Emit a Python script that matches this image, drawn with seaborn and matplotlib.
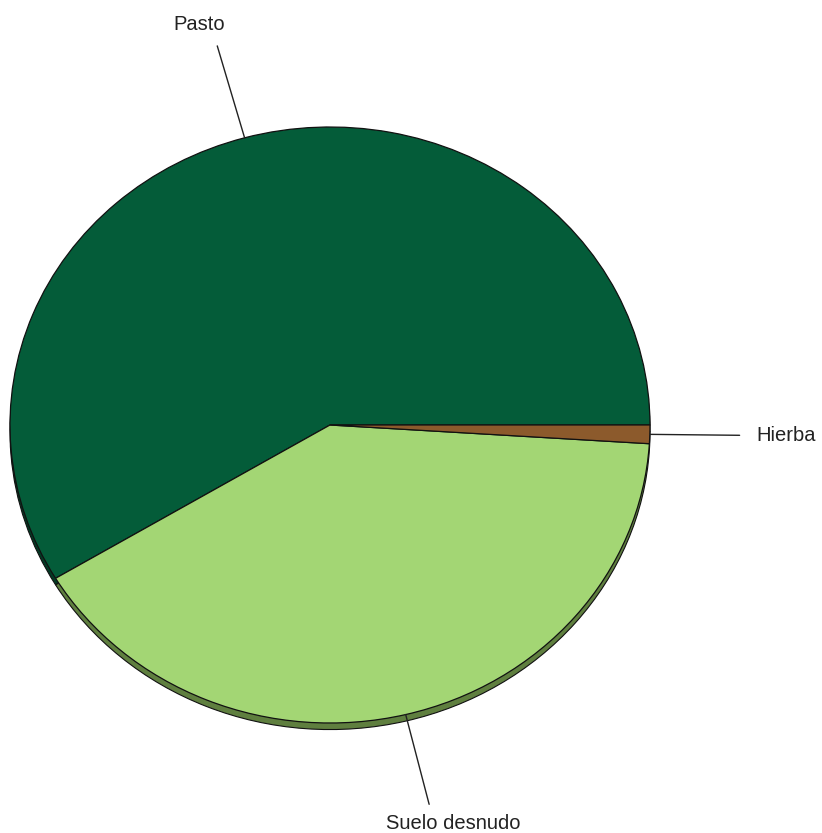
import numpy as np
import matplotlib
matplotlib.use("Agg")
import matplotlib.pyplot as plt
import seaborn as sns

# Data
categories = ["Pasto", "Suelo desnudo", "Hierba"]
shares = [58.6, 40.4, 1.0]
colors = ["#045c39", "#a3d674", "#8c5a2c"]
rim_colors = ["#023a24", "#5f7f3f", "#5a3a1c"]

sns.set_theme(style="white")
plt.rcParams["font.family"] = ["Liberation Sans", "DejaVu Sans"]

W, H = 822, 833
fig = plt.figure(figsize=(W / 100, H / 100), dpi=100)
ax = fig.add_axes([0, 0, 1, 1])

# pixel geometry of the (slightly squashed) pie
cx, cy, rx, ry = 330, 425, 320, 298

# 3D-ish rim: same pie pushed down a few pixels
ax.pie(shares, colors=rim_colors, startangle=0, counterclock=True,
       center=(0, -0.022),
       wedgeprops=dict(edgecolor="#111111", linewidth=0.8))
wedges, _ = ax.pie(shares, colors=colors, startangle=0, counterclock=True,
                   wedgeprops=dict(edgecolor="#111111", linewidth=0.9))

ax.set_aspect("auto")
ax.set_xlim(-cx / rx, (W - cx) / rx)
ax.set_ylim((cy - H) / ry, cy / ry)
ax.axis("off")

# leader lines + labels, (text offset in px, ha, va, line length)
label_style = {
    "Pasto": ((-18, 12), "center", "bottom", 1.32),
    "Suelo desnudo": ((24, -10), "center", "top", 1.31),
    "Hierba": ((17, 0), "left", "center", 1.28),
}

for w, name in zip(wedges, categories):
    ang = np.deg2rad((w.theta1 + w.theta2) / 2)
    (dx, dy), ha, va, r_end = label_style[name]
    x0, y0 = np.cos(ang), np.sin(ang)
    if name == "Hierba":
        x1, y1 = r_end, y0 * 1.1
    else:
        x1, y1 = r_end * x0, r_end * y0
    ax.plot([x0, x1], [y0, y1], color="#222222", linewidth=1.0)
    ax.annotate(name, (x1, y1), xytext=(dx * 0.72, dy * 0.72),
                textcoords="offset points", ha=ha, va=va,
                fontsize=14.5, color="#222222")

fig.savefig("out.png", dpi=100, facecolor="white")
